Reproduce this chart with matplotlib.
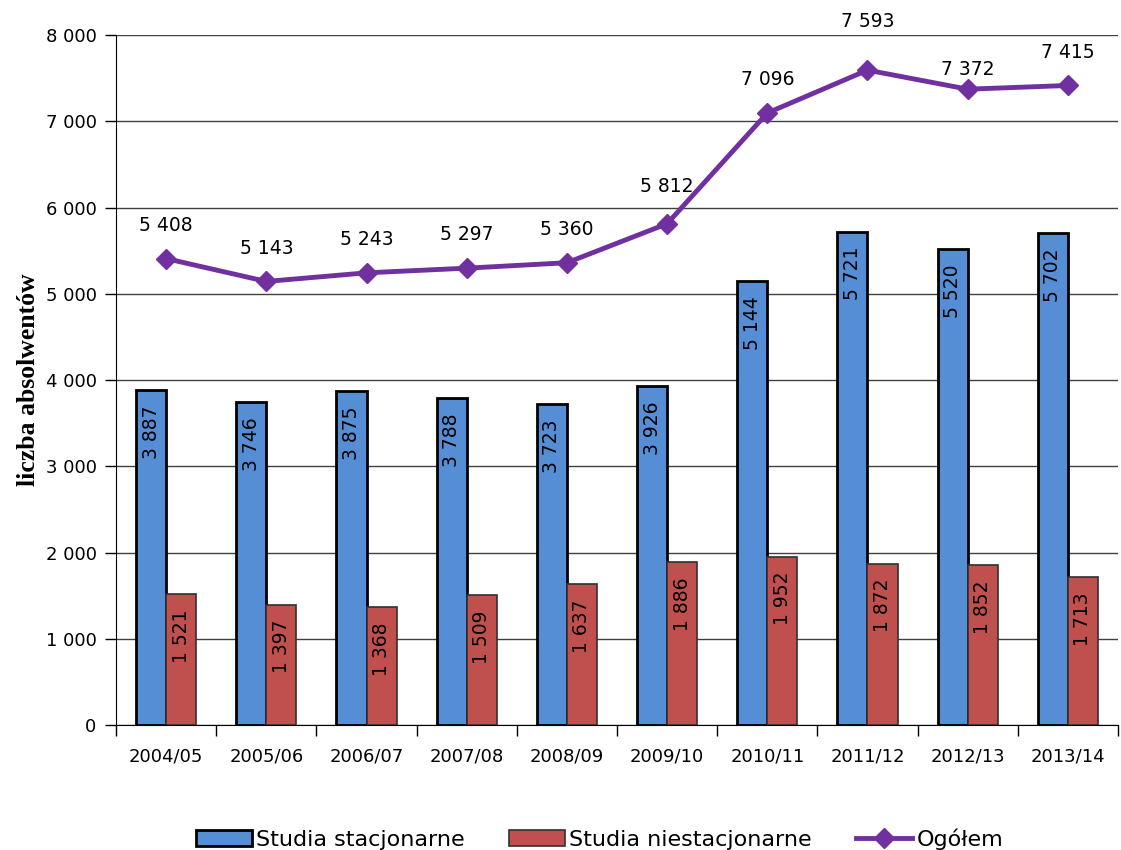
import matplotlib.pyplot as plt
import numpy as np
from matplotlib.ticker import FuncFormatter, FixedLocator

# data
years = ['2004/05', '2005/06', '2006/07', '2007/08', '2008/09',
         '2009/10', '2010/11', '2011/12', '2012/13', '2013/14']
stacjonarne = [3887, 3746, 3875, 3788, 3723, 3926, 5144, 5721, 5520, 5702]
niestacjonarne = [1521, 1397, 1368, 1509, 1637, 1886, 1952, 1872, 1852, 1713]
ogolem = [5408, 5143, 5243, 5297, 5360, 5812, 7096, 7593, 7372, 7415]

def fmt(v):
    return '{:,}'.format(int(v)).replace(',', ' ')

plt.rcParams['font.family'] = ['DejaVu Sans']

fig = plt.figure(figsize=(11.21, 8.5), dpi=100)
ax = fig.add_axes([0.1035, 0.147, 0.8938, 0.8118])

x = np.arange(len(years))
w = 0.3
blue = '#558ED5'
red = '#C0504D'
purple = '#7030A0'

b1 = ax.bar(x - w/2, stacjonarne, w, color=blue, edgecolor='black', linewidth=2,
            label='Studia stacjonarne', zorder=3)
b2 = ax.bar(x + w/2, niestacjonarne, w, color=red, edgecolor='#303030', linewidth=1.2,
            label='Studia niestacjonarne', zorder=3)
ln, = ax.plot(x, ogolem, color=purple, lw=3.5, marker='D', markersize=10,
              label='Ogółem', zorder=4)

for bars, vals in ((b1, stacjonarne), (b2, niestacjonarne)):
    for r, v in zip(bars, vals):
        ax.annotate(fmt(v), (r.get_x() + r.get_width()/2, v), xytext=(0, -11),
                    textcoords='offset points', rotation=90, ha='center', va='top',
                    fontsize=13.5, zorder=5)

# label nudges for the total line (points above the marker)
nudge = {5: 27, 7: 35, 8: 14}
for i, (xi, v) in enumerate(zip(x, ogolem)):
    ax.annotate(fmt(v), (xi, v), xytext=(0, nudge.get(i, 24)), textcoords='offset points',
                ha='center', va='center', fontsize=13.5)

ax.set_xlim(-0.5, len(years) - 0.5)
ax.set_ylim(0, 8000)
ax.set_yticks(np.arange(0, 8001, 1000))
ax.yaxis.set_major_formatter(FuncFormatter(lambda v, p: fmt(v)))
ax.set_xticks(x)
ax.set_xticklabels(years)
ax.xaxis.set_minor_locator(FixedLocator(np.arange(-0.5, len(years), 1)))
ax.tick_params(axis='x', which='major', length=0, pad=16, labelsize=13)
ax.tick_params(axis='x', which='minor', length=8, width=1)
ax.tick_params(axis='y', length=8, width=1, labelsize=13, pad=6)

ax.grid(axis='y', color='#404040', lw=1, zorder=0)
ax.spines['top'].set_visible(False)
ax.spines['right'].set_visible(False)

ax.set_ylabel('liczba absolwentów', family='Liberation Serif', fontweight='bold',
              fontsize=18.5, labelpad=4)

fig.legend(handles=[b1, b2, ln], loc='center', bbox_to_anchor=(0.535, 0.013),
           ncol=3, frameon=False, fontsize=16, handlelength=2.5, columnspacing=2.0,
           handletextpad=0.2)

plt.savefig('out.png', dpi=100)
